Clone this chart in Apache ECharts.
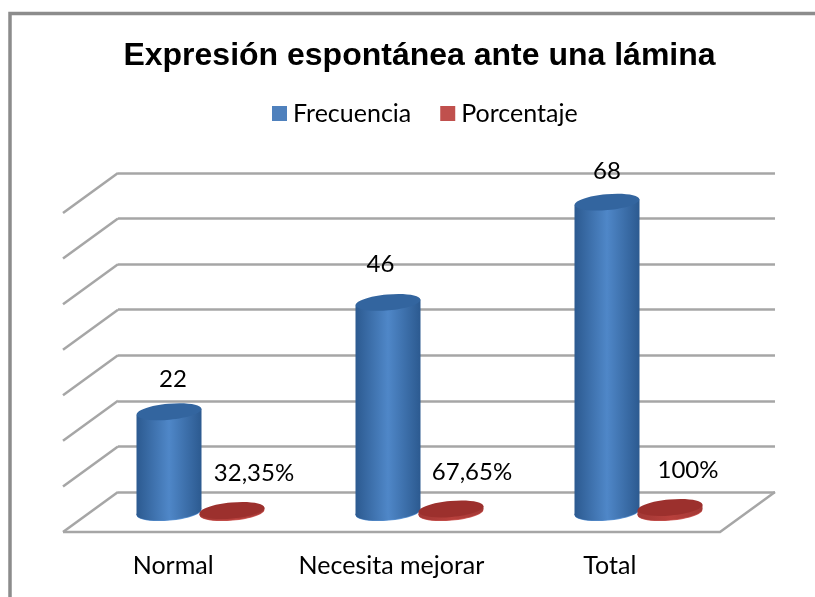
<!DOCTYPE html>
<html><head><meta charset="utf-8">
<style>html,body{margin:0;padding:0;background:#fff}#c{width:815px;height:597px}</style>
<script src="https://cdn.jsdelivr.net/npm/echarts@6/dist/echarts.min.js"></script>
</head><body><div id="c"></div>
<script>
var categories = ['Normal', 'Necesita mejorar', 'Total'];
var frecuencia = [22, 46, 68];
var porcentaje = [0.3235, 0.6765, 1];
var frecuenciaLabels = ['22', '46', '68'];
var porcentajeLabels = ['32,35%', '67,65%', '100%'];
var ticks = [0, 10, 20, 30, 40, 50, 60, 70];

var GRID = '#a6a6a6', TXT = '#000', FONT = 'Lato';
var chart = echarts.init(document.getElementById('c'), null, {renderer: 'canvas'});

function cylinder(palette, labels, shift, nudge) {
  return function (params, api) {
    var i = api.value(0), top = api.coord([i, api.value(1)]), base = api.coord([i, 0]);
    var cx = base[0] + shift, rx = 32.5, ry = 8, tilt = 0.09, d = rx * Math.sin(tilt);
    var body = new echarts.graphic.LinearGradient(0, 0, 1, 0, [
      {offset: 0, color: palette.edge}, {offset: 0.5, color: palette.mid}, {offset: 1, color: palette.edge}]);
    function oval(y, fill) {
      return {type: 'ellipse', shape: {cx: cx, cy: y, rx: rx, ry: ry},
        rotation: tilt, originX: cx, originY: y, style: {fill: fill}};
    }
    return {type: 'group', children: [
      oval(base[1] + 0.6, palette.rim),
      oval(base[1], body),
      {type: 'polygon', shape: {points: [[cx - rx, top[1] + d], [cx + rx, top[1] - d], [cx + rx, base[1] - d], [cx - rx, base[1] + d]]}, style: {fill: body}},
      oval(top[1], palette.cap),
      {type: 'text', x: cx + nudge[i][0], y: top[1] - 38 + nudge[i][1],
        style: {text: labels[i], fill: TXT, font: '24px ' + FONT, align: 'center', verticalAlign: 'middle'}}
    ]};
  };
}

chart.setOption({
  animation: false,
  backgroundColor: '#fff',
  title: {text: 'Expresión espontánea ante una lámina', left: 414.5, top: 35, textAlign: 'center',
    textStyle: {fontFamily: 'Liberation Sans', fontWeight: 'bold', fontSize: 32, color: TXT}},
  legend: {data: ['Frecuencia', 'Porcentaje'], left: 267, top: 96, itemWidth: 15, itemHeight: 15, itemGap: 29,
    icon: 'rect', textStyle: {fontFamily: FONT, fontSize: 25, color: TXT, padding: [0, 0, 0, 1]}},
  grid: [
    {left: 91, width: 657, top: 193, height: 319},
    {left: 118, width: 657, top: 173, height: 319},
    {left: 64, width: 655, top: 193, height: 319}
  ],
  xAxis: [
    {type: 'category', gridIndex: 0, data: categories, axisLine: {show: false}, axisTick: {show: false}, axisLabel: {show: false}},
    {type: 'category', gridIndex: 1, data: categories, axisLine: {show: false}, axisTick: {show: false}, axisLabel: {show: false}},
    {type: 'category', gridIndex: 2, data: categories, axisLine: {show: false}, axisTick: {show: false},
      axisLabel: {margin: 41, interval: 0, hideOverlap: false, color: TXT, fontFamily: FONT, fontSize: 25}}
  ],
  yAxis: [
    {type: 'value', gridIndex: 0, min: 0, max: 70, interval: 10, axisLabel: {show: false}, axisLine: {show: false}, axisTick: {show: false}, splitLine: {show: false}},
    {type: 'value', gridIndex: 1, min: 0, max: 70, interval: 10, axisLabel: {show: false}, axisLine: {show: false}, axisTick: {show: false},
      splitLine: {show: true, lineStyle: {color: GRID, width: 2.5}}},
    {type: 'value', gridIndex: 2, min: 0, max: 70, interval: 10, axisLabel: {show: false}, axisLine: {show: false}, axisTick: {show: false}, splitLine: {show: false}}
  ],
  series: [
    {type: 'custom', name: 'wall', xAxisIndex: 1, yAxisIndex: 1, silent: true, z: 1, data: ticks.map(function (t) { return [0, t]; }),
      encode: {x: 0, y: 1},
      renderItem: function (params, api) {
        var p = api.coord([0, api.value(1)]), x0 = params.coordSys.x;
        return {type: 'line', shape: {x1: x0, y1: p[1], x2: x0 - 55, y2: p[1] + 40},
          style: {stroke: GRID, lineWidth: 2.5, fill: null}};
      }},
    {type: 'custom', name: 'floor', xAxisIndex: 1, yAxisIndex: 1, silent: true, z: 1, data: [[0, 0]],
      encode: {x: 0, y: 1},
      renderItem: function (params, api) {
        var p = api.coord([0, 0]), cs = params.coordSys, xr = cs.x + cs.width;
        return {type: 'polyline', shape: {points: [[xr, p[1]], [xr - 55, p[1] + 40], [cs.x - 55, p[1] + 40]]},
          style: {stroke: GRID, lineWidth: 2.5, fill: null}};
      }},
    {type: 'custom', name: 'Frecuencia', xAxisIndex: 0, yAxisIndex: 0, z: 3, itemStyle: {color: '#4f81bd'},
      data: frecuencia.map(function (v, i) { return [i, v]; }), encode: {x: 0, y: 1},
      renderItem: cylinder({edge: '#2c5a90', mid: '#4f87c8', cap: '#33659f', rim: '#5b93d3'}, frecuenciaLabels, -31.5,
        [[4, 6], [-7.5, 0], [0, 7]])},
    {type: 'custom', name: 'Porcentaje', xAxisIndex: 0, yAxisIndex: 0, z: 3, itemStyle: {color: '#c0504d'},
      data: porcentaje.map(function (v, i) { return [i, v]; }), encode: {x: 0, y: 1},
      renderItem: cylinder({edge: '#a23835', mid: '#b8403c', cap: '#9c302d', rim: '#cf5a56'}, porcentajeLabels, 31.5,
        [[22, 1], [21, 1], [18, 1]])}
  ],
  graphic: [{type: 'polyline', silent: true, z: 10,
    shape: {points: [[10, 597], [10, 13.5], [815, 13.5]]},
    style: {stroke: '#8c8c8c', lineWidth: 3.5, fill: null}}]
});
</script></body></html>
